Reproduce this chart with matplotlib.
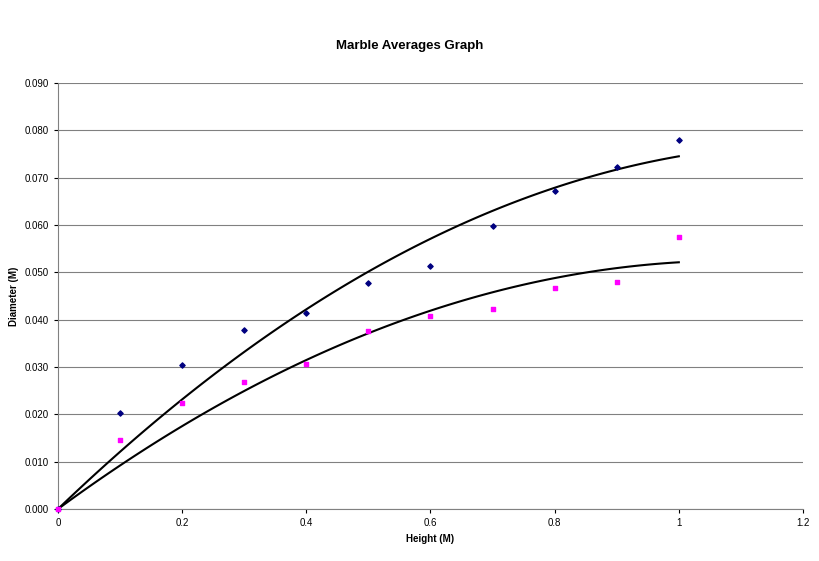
import numpy as np
import matplotlib.pyplot as plt

height = [0, 0.1, 0.2, 0.3, 0.4, 0.5, 0.6, 0.7, 0.8, 0.9, 1.0]
diam_a = [0, 0.0203, 0.0304, 0.0378, 0.0414, 0.0478, 0.0514, 0.0598, 0.0672, 0.0723, 0.0780]
diam_b = [0, 0.0146, 0.0224, 0.0268, 0.0307, 0.0376, 0.0408, 0.0423, 0.0467, 0.0480, 0.0575]

plt.rcParams["font.family"] = ["Liberation Sans", "DejaVu Sans"]
fig = plt.figure(figsize=(8.2, 5.61), dpi=100)
ax = fig.add_axes([58/820, 1-509/561, 745/820, 426/561])

# quadratic trend lines forced through the origin
h = np.array(height)
A = np.column_stack([h, h**2])
xs = np.linspace(0, 1, 100)
for d in (diam_a, diam_b):
    c, *_ = np.linalg.lstsq(A, np.array(d), rcond=None)
    ax.plot(xs, c[0]*xs + c[1]*xs**2, color="black", lw=1.5, zorder=2)

ax.scatter(height, diam_a, marker="D", s=7, color="#000080", zorder=3, clip_on=False)
ax.scatter(height, diam_b, marker="s", s=10, color="#ff00ff", zorder=3, clip_on=False)

ax.set_xlim(0, 1.2)
ax.set_ylim(0, 0.09)
ax.set_xticks([0, 0.2, 0.4, 0.6, 0.8, 1, 1.2])
ax.set_xticklabels(["0", "0.2", "0.4", "0.6", "0.8", "1", "1.2"])
ax.set_yticks(np.arange(0, 0.0901, 0.01))
ax.set_yticklabels([f"{v:.3f}" for v in np.arange(0, 0.0901, 0.01)])
ax.tick_params(labelsize=7, length=3)
ax.grid(axis="y", color="#808080", lw=0.8)
ax.set_axisbelow(True)
for s in ("top", "right"):
    ax.spines[s].set_visible(False)
ax.spines["left"].set_color("#808080")
ax.spines["bottom"].set_color("#808080")
ax.set_xlabel("Height (M)", fontsize=7, fontweight="bold")
ax.set_ylabel("Diameter (M)", fontsize=7, fontweight="bold")
fig.text(0.5, 1-46/561, "Marble Averages Graph", ha="center", va="center", fontsize=9.5, fontweight="bold")
fig.savefig("out.png")
